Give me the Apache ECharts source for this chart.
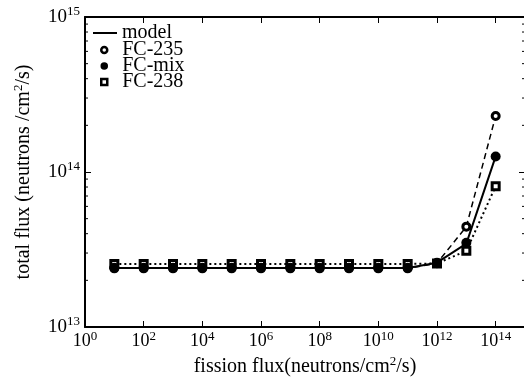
<!DOCTYPE html>
<html>
<head>
<meta charset="utf-8">
<script src="https://cdn.jsdelivr.net/npm/echarts@6/dist/echarts.min.js"></script>
<style>
  html, body { margin: 0; padding: 0; background: #fff; }
  #chart { width: 524px; height: 377px; }
</style>
</head>
<body>
<div id="chart"></div>
<script>
const FONT = "'Liberation Serif', 'DejaVu Serif', serif";

// fission flux (x) in neutrons/cm^2/s
const fissionFlux = [1e1, 1e2, 1e3, 1e4, 1e5, 1e6, 1e7, 1e8, 1e9, 1e10, 1e11, 1e12, 1e13, 1e14];

// total flux (y)
const model = [2.4e13, 2.4e13, 2.4e13, 2.4e13, 2.4e13, 2.4e13, 2.4e13, 2.4e13, 2.4e13, 2.4e13, 2.4e13, 2.6e13, 3.45e13, 1.26e14];
const fc235 = [2.39e13, 2.39e13, 2.39e13, 2.39e13, 2.39e13, 2.39e13, 2.39e13, 2.39e13, 2.39e13, 2.39e13, 2.39e13, 2.58e13, 4.44e13, 2.3e14];
const fcMix = [2.41e13, 2.41e13, 2.41e13, 2.41e13, 2.41e13, 2.41e13, 2.41e13, 2.41e13, 2.41e13, 2.41e13, 2.41e13, 2.6e13, 3.5e13, 1.26e14];
const fc238 = [2.55e13, 2.55e13, 2.55e13, 2.55e13, 2.55e13, 2.55e13, 2.55e13, 2.55e13, 2.55e13, 2.55e13, 2.55e13, 2.57e13, 3.1e13, 8.1e13];

// minor ticks on the y axes (log axis minor ticks at 2..9 x 10^n)
const yMinorTicks = [2e13, 3e13, 4e13, 5e13, 6e13, 7e13, 8e13, 9e13, 2e14, 3e14, 4e14, 5e14, 6e14, 7e14, 8e14, 9e14];

const X_MIN = 1, X_MAX = 1e15;
const Y_MIN = 1e13, Y_MAX = 1e15;

const pairs = (ys) => fissionFlux.map((x, i) => [x, ys[i]]);

const powLabel = (v) => `{b|10}{s|${Math.round(Math.log10(v))}}`;
const xLabelRich = {
  b: { fontFamily: FONT, fontSize: 18, color: "#000" },
  s: { fontFamily: FONT, fontSize: 13, color: "#000", padding: [0, 0, 10, 0] },
};
const yLabelRich = {
  b: { fontFamily: FONT, fontSize: 19, color: "#000" },
  s: { fontFamily: FONT, fontSize: 13, color: "#000", padding: [0, 0, 11, 0] },
};
const nameStyle = {
  fontFamily: FONT, fontSize: 20, color: "#000",
  rich: { s: { fontFamily: FONT, fontSize: 13, color: "#000", padding: [0, 0, 10, 0] } },
};

const axisLine = { show: true, lineStyle: { color: "#000", width: 2 } };
const majorTick = { inside: true, length: 6, lineStyle: { color: "#000", width: 1 } };
const hollow = { color: "#fff", borderColor: "#000", borderWidth: 3 };

const chart = echarts.init(document.getElementById("chart"));
chart.setOption({
  animation: false,
  backgroundColor: "#fff",
  grid: { left: 85, right: -1, top: 17, bottom: 50, containLabel: false, outerBoundsMode: "none" },
  legend: [
    {
      orient: "vertical",
      left: 93,
      top: 23,
      padding: 0,
      itemWidth: 24,
      itemHeight: 8,
      textStyle: { fontFamily: FONT, fontSize: 20, color: "#000" },
      data: [{ name: "model", icon: "path://M0,0H24V2H0Z" }],
    },
    {
      orient: "vertical",
      left: 100,
      top: 40,
      padding: 0,
      itemWidth: 6,
      itemHeight: 6,
      itemGap: -4,
      textStyle: { fontFamily: FONT, fontSize: 20, color: "#000", padding: [0, 0, 0, 10] },
      data: [
        { name: "FC-235", icon: "circle", itemStyle: { color: "#fff", borderColor: "#000", borderWidth: 2.5 } },
        { name: "FC-mix", icon: "circle", itemStyle: { color: "#000", borderColor: "#000", borderWidth: 1.5 } },
        { name: "FC-238", icon: "rect", itemStyle: { color: "#fff", borderColor: "#000", borderWidth: 2.5 } },
      ],
    },
  ],
  xAxis: [
    {
      type: "log",
      min: X_MIN,
      max: X_MAX,
      interval: 2,
      name: "fission flux(neutrons/cm{s|2}/s)",
      nameLocation: "middle",
      nameGap: 25,
      nameTextStyle: nameStyle,
      axisLine,
      axisTick: majorTick,
      axisLabel: { showMaxLabel: false, margin: 3, formatter: powLabel, rich: xLabelRich },
      splitLine: { show: false },
    },
    {
      type: "log",
      position: "top",
      min: X_MIN,
      max: X_MAX,
      interval: 2,
      axisLine,
      axisTick: majorTick,
      axisLabel: { show: false },
      splitLine: { show: false },
    },
  ],
  yAxis: [
    {
      type: "log",
      min: Y_MIN,
      max: Y_MAX,
      interval: 1,
      name: "total flux (neutrons /cm{s|2}/s)",
      nameLocation: "middle",
      nameGap: 50,
      nameTextStyle: nameStyle,
      axisLine,
      axisTick: majorTick,
      axisLabel: { margin: 5, formatter: powLabel, rich: yLabelRich },
      splitLine: { show: false },
    },
    {
      type: "log",
      position: "right",
      min: Y_MIN,
      max: Y_MAX,
      interval: 1,
      axisLine,
      axisTick: majorTick,
      axisLabel: { show: false },
      splitLine: { show: false },
    },
  ],
  series: [
    {
      name: "minor ticks",
      type: "custom",
      silent: true,
      data: yMinorTicks.map((v) => [X_MIN, v]),
      encode: { x: 0, y: 1 },
      renderItem: (params, api) => {
        const v = api.value(1);
        const l = api.coord([X_MIN, v]);
        const r = api.coord([X_MAX, v]);
        const style = { stroke: "#000", lineWidth: 1 };
        return {
          type: "group",
          children: [
            { type: "line", shape: { x1: l[0], y1: l[1], x2: l[0] + 3, y2: l[1] }, style },
            { type: "line", shape: { x1: r[0], y1: r[1], x2: r[0] - 3, y2: r[1] }, style },
          ],
        };
      },
      z: 1,
    },
    {
      name: "model",
      type: "line",
      data: pairs(model),
      symbol: "none",
      lineStyle: { color: "#000", width: 2 },
      itemStyle: { color: "#000" },
      z: 3,
    },
    {
      name: "FC-235",
      type: "line",
      data: pairs(fc235),
      symbol: "circle",
      symbolSize: 7,
      lineStyle: { color: "#000", width: 1.5, type: [6, 4] },
      itemStyle: hollow,
      z: 2,
    },
    {
      name: "FC-mix",
      type: "scatter",
      data: pairs(fcMix),
      symbol: "circle",
      symbolSize: 10,
      itemStyle: { color: "#000", opacity: 1 },
      z: 4,
    },
    {
      name: "FC-238",
      type: "line",
      data: pairs(fc238),
      symbol: "rect",
      symbolSize: 7,
      lineStyle: { color: "#000", width: 2, type: [2, 3] },
      itemStyle: hollow,
      z: 2,
    },
  ],
});
</script>
</body>
</html>
